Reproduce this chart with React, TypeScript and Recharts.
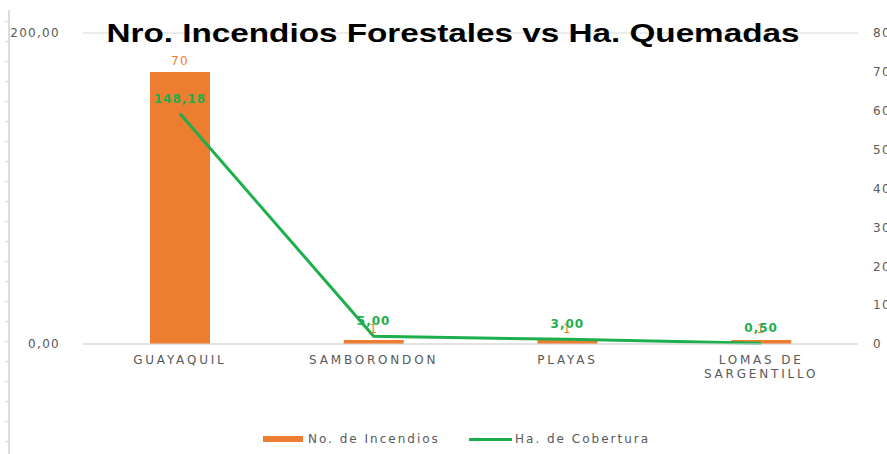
import { ComposedChart, Bar, Line, XAxis, YAxis, CartesianGrid, LabelList, Text } from 'recharts'

const cantones = ['GUAYAQUIL', 'SAMBORONDON', 'PLAYAS', 'LOMAS DE SARGENTILLO']
const incendios = [70, 1, 1, 1]
const hectareas = [148.18, 5.0, 3.0, 0.5]
const leftTicks = [0, 200]
const rightTicks = [0, 10, 20, 30, 40, 50, 60, 70, 80]

const data = cantones.map((name, i) => ({ name, incendios: incendios[i], hectareas: hectareas[i] }))

const ORANGE = '#ED7D31'
const GREEN = '#1DAF4B'
const GREY = '#595959'
const FONT = '"DejaVu Sans", sans-serif'

const coma = (v: number) => v.toFixed(2).replace('.', ',')

// x axis labels wrap like the original (LOMAS DE / SARGENTILLO)
const CantonTick = (props: any) => {
    const { x, y, payload } = props
    return (
        <Text
            x={x}
            y={y}
            width={140}
            textAnchor="middle"
            verticalAnchor="start"
            fill={GREY}
            fontSize={12}
            fontFamily={FONT}
            style={{ letterSpacing: 2.8 }}
            lineHeight={14}
        >
            {payload.value}
        </Text>
    )
}

const App = () => {
    return (
        <div style={{ position: 'absolute', left: 0, top: 0, width: 887, height: 454, background: '#fff', overflow: 'hidden' }}>
            {/* stray axis ruler on the left edge */}
            <div style={{ position: 'absolute', left: 8, top: 10, width: 2, height: 444, background: '#dcdcdc' }} />
            <div
                style={{
                    position: 'absolute',
                    left: 5,
                    top: 21,
                    width: 3,
                    height: 433,
                    background: 'repeating-linear-gradient(to bottom, #dcdcdc 0px, #dcdcdc 1px, transparent 1px, transparent 20px)',
                }}
            />

            <ComposedChart
                width={887}
                height={454}
                data={data}
                margin={{ top: 33, right: 0, left: 0, bottom: 80 }}
                style={{ position: 'absolute', left: 0, top: 0 }}
            >
                <CartesianGrid vertical={false} stroke="#d9d9d9" yAxisId="left" />
                <XAxis
                    dataKey="name"
                    height={30}
                    axisLine={{ stroke: '#d9d9d9' }}
                    tickLine={false}
                    tickMargin={5}
                    interval={0}
                    tick={<CantonTick />}
                />
                <YAxis
                    yAxisId="left"
                    width={83}
                    domain={[0, 200]}
                    ticks={leftTicks}
                    axisLine={false}
                    tickLine={false}
                    tickMargin={17}
                    tickFormatter={coma}
                    tick={{ fill: GREY, fontSize: 12, fontFamily: FONT, style: { letterSpacing: 1.3 } }}
                />
                <YAxis
                    yAxisId="right"
                    orientation="right"
                    width={29}
                    domain={[0, 80]}
                    ticks={rightTicks}
                    axisLine={false}
                    tickLine={false}
                    tickMargin={9}
                    tick={{ fill: GREY, fontSize: 12, fontFamily: FONT, textAnchor: 'start', style: { letterSpacing: 1.3 } }}
                />
                <Bar yAxisId="right" dataKey="incendios" fill={ORANGE} barSize={60} isAnimationActive={false}>
                    <LabelList
                        dataKey="incendios"
                        position="top"
                        offset={7}
                        fill={ORANGE}
                        fontSize={12}
                        fontFamily={FONT}
                        style={{ letterSpacing: 1.3 }}
                    />
                </Bar>
                <Line
                    yAxisId="left"
                    dataKey="hectareas"
                    stroke={GREEN}
                    strokeWidth={3}
                    dot={false}
                    type="linear"
                    isAnimationActive={false}
                >
                    <LabelList
                        dataKey="hectareas"
                        position="top"
                        offset={11}
                        fill={GREEN}
                        fontSize={12}
                        fontWeight="bold"
                        fontFamily={FONT}
                        formatter={(v: any) => coma(Number(v))}
                        style={{ letterSpacing: 1 }}
                    />
                </Line>
            </ComposedChart>

            {/* title */}
            <div
                style={{
                    position: 'absolute',
                    left: 0,
                    top: 17,
                    width: 906,
                    textAlign: 'center',
                    fontFamily: '"Liberation Sans", Arial, sans-serif',
                    fontWeight: 'bold',
                    fontSize: 25,
                    lineHeight: '32px',
                    color: '#000',
                    transform: 'scaleX(1.33)',
                    transformOrigin: '453px 0',
                    whiteSpace: 'nowrap',
                }}
            >
                Nro. Incendios Forestales vs Ha. Quemadas
            </div>

            {/* legend */}
            <div
                style={{
                    position: 'absolute',
                    left: 263,
                    top: 432,
                    display: 'flex',
                    alignItems: 'center',
                    fontFamily: FONT,
                    fontSize: 12,
                    color: GREY,
                    letterSpacing: 2,
                    whiteSpace: 'nowrap',
                }}
            >
                <span style={{ display: 'inline-block', width: 40, height: 6, background: ORANGE, marginRight: 5 }} />
                <span style={{ width: 161 }}>No. de Incendios</span>
                <span style={{ display: 'inline-block', width: 43, height: 3, background: GREEN, marginRight: 3 }} />
                <span>Ha. de Cobertura</span>
            </div>
        </div>
    )
}

export default App
